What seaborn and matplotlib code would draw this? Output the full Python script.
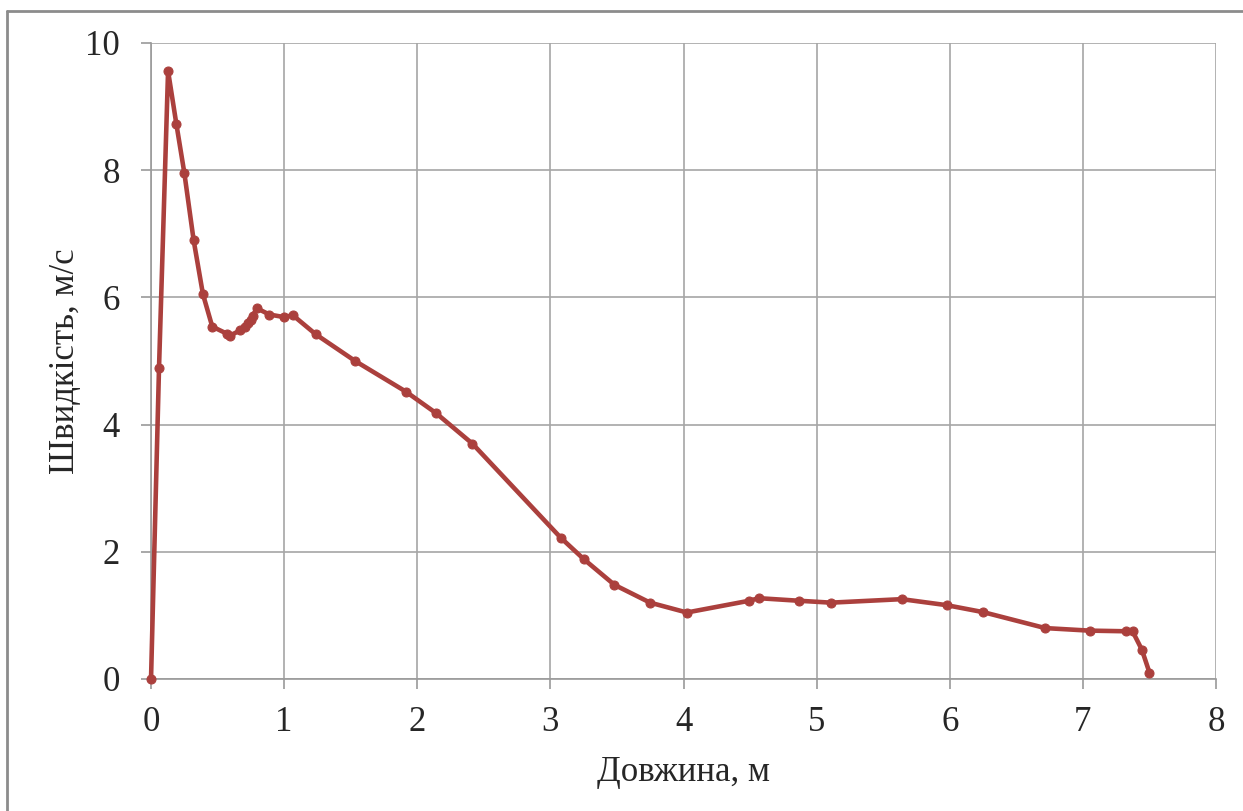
import matplotlib
matplotlib.use("Agg")
import matplotlib.pyplot as plt
import seaborn as sns
import pandas as pd
from matplotlib.lines import Line2D

# Data
length_m = [0.0, 0.06, 0.128, 0.19, 0.25, 0.32, 0.39, 0.46, 0.569, 0.594,
            0.669, 0.706, 0.731, 0.749, 0.764, 0.794, 0.889, 1.0, 1.065,
            1.237, 1.533, 1.913, 2.141, 2.414, 3.078, 3.253, 3.481, 3.749,
            4.025, 4.493, 4.566, 4.866, 5.107, 5.64, 5.978, 6.253, 6.717,
            7.05, 7.323, 7.373, 7.443, 7.50]
speed_ms = [0.0, 4.89, 9.56, 8.73, 7.96, 6.90, 6.05, 5.54, 5.43, 5.40,
            5.48, 5.54, 5.59, 5.65, 5.71, 5.83, 5.73, 5.69, 5.72,
            5.42, 5.00, 4.52, 4.18, 3.70, 2.22, 1.88, 1.48, 1.20,
            1.045, 1.23, 1.27, 1.23, 1.20, 1.255, 1.16, 1.05, 0.80,
            0.76, 0.75, 0.75, 0.46, 0.10]

x_ticks = [0, 1, 2, 3, 4, 5, 6, 7, 8]
y_ticks = [0, 2, 4, 6, 8, 10]

df = pd.DataFrame({"x": length_m, "y": speed_ms})

sns.set_style("white")
plt.rcParams["font.family"] = ["Liberation Serif", "DejaVu Serif"]

fig = plt.figure(figsize=(12.43, 8.11), dpi=100)
ax = fig.add_axes([0.1215, 0.1628, 0.8568, 0.7842])

line_color = "#AB403D"
sns.lineplot(data=df, x="x", y="y", sort=False, ax=ax, color=line_color,
             linewidth=3.3, marker="o", markersize=6.5,
             markeredgecolor=line_color, markerfacecolor=line_color,
             clip_on=False, zorder=5)

ax.set_xlim(0, 8)
ax.set_ylim(0, 10)
ax.set_xticks(x_ticks)
ax.set_yticks(y_ticks)
ax.grid(True, color="#a6a6a6", linewidth=1.2)
ax.set_axisbelow(True)

for side in ["top", "right"]:
    ax.spines[side].set_visible(False)
for side in ["left", "bottom"]:
    ax.spines[side].set_color("#9a9a9a")
    ax.spines[side].set_linewidth(1.2)

ax.tick_params(axis="both", which="major", labelsize=25, length=7.5,
               width=1.2, color="#9a9a9a", direction="out",
               bottom=True, left=True)
ax.tick_params(axis="x", pad=12)
ax.tick_params(axis="y", pad=15)
ax.set_xlabel("Довжина, м", fontsize=25, labelpad=12)
ax.set_ylabel("Швидкість, м/с", fontsize=25, labelpad=2)

# outer frame of the chart area (top and left edges visible)
fig.add_artist(Line2D([7 / 1243, 1.0], [1 - 11 / 811, 1 - 11 / 811],
                      transform=fig.transFigure, color="#8c8c8c", linewidth=2))
fig.add_artist(Line2D([7 / 1243, 7 / 1243], [0.0, 1 - 11 / 811],
                      transform=fig.transFigure, color="#8c8c8c", linewidth=2))

fig.savefig("out.png", dpi=100)
